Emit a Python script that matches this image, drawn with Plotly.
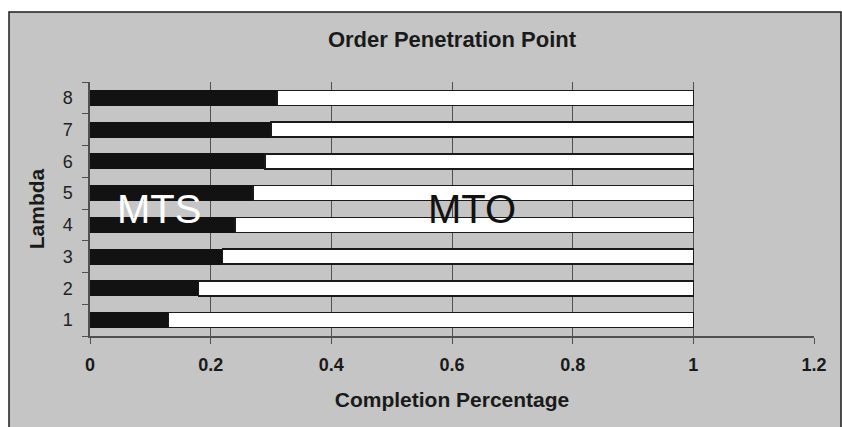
import plotly.graph_objects as go

# Order penetration point per lambda: share of completion done make-to-stock
lambdas = ["1", "2", "3", "4", "5", "6", "7", "8"]
mts_share = [0.13, 0.18, 0.22, 0.24, 0.27, 0.29, 0.30, 0.31]
mto_share = [round(1 - v, 2) for v in mts_share]

x_ticks = [0, 0.2, 0.4, 0.6, 0.8, 1.0, 1.2]
x_tick_text = ["0", "0.2", "0.4", "0.6", "0.8", "1", "1.2"]

FONT = "Liberation Sans, Arial, sans-serif"
BG = "#c4c5c4"
W, H = 842, 427
L, R, T, B = 90, 28, 82, 91
pw, ph = W - L - R, H - T - B


def px_to_paper_x(px):
    return (px - L) / pw


def px_to_paper_y(py):
    return (H - B - py) / ph


fig = go.Figure()
fig.add_trace(go.Bar(
    y=lambdas, x=mts_share, orientation="h", name="MTS",
    marker=dict(color="#121212", line=dict(color="#121212", width=1)),
))
fig.add_trace(go.Bar(
    y=lambdas, x=mto_share, orientation="h", name="MTO",
    marker=dict(color="#ffffff", line=dict(color="#1a1a1a", width=1.5)),
))

# grey chart area with dark frame
fig.add_shape(
    type="rect", xref="paper", yref="paper", layer="below",
    x0=px_to_paper_x(9), x1=px_to_paper_x(841),
    y0=px_to_paper_y(440), y1=px_to_paper_y(12),
    fillcolor=BG, line=dict(color="#1e1e1e", width=1.5),
)

fig.add_annotation(x=0.115, y=3.5, xref="x", yref="y", text="MTS",
                   showarrow=False, font=dict(family=FONT, size=40, color="#ffffff"))
fig.add_annotation(x=0.633, y=3.5, xref="x", yref="y", text="MTO",
                   showarrow=False, font=dict(family=FONT, size=40, color="#111111"))

fig.update_layout(
    width=W, height=H,
    margin=dict(l=L, r=R, t=T, b=B),
    paper_bgcolor="#ffffff",
    plot_bgcolor="rgba(0,0,0,0)",
    barmode="stack",
    bargap=0.53,
    showlegend=False,
    font=dict(family=FONT),
    title=dict(text="<b>Order Penetration Point</b>", x=0.5, xref="paper",
               y=1 - 39 / H, yref="container", yanchor="middle",
               font=dict(family=FONT, size=22, color="#1a1a1a")),
    xaxis=dict(
        range=[0, 1.2], tickvals=x_ticks,
        ticktext=[f"<b>{t}</b>" for t in x_tick_text],
        tickfont=dict(family=FONT, size=18, color="#1a1a1a"),
        showgrid=True, gridcolor="#505050", gridwidth=1,
        showline=True, linecolor="#505050", linewidth=1.5,
        ticks="outside", ticklen=6, tickcolor="#505050",
        ticklabelstandoff=6,
        zeroline=False,
        title=dict(text="<b>Completion Percentage</b>", standoff=18,
                   font=dict(family=FONT, size=21, color="#1a1a1a")),
    ),
    yaxis=dict(
        type="category", categoryorder="array", categoryarray=lambdas,
        tickson="boundaries",
        tickfont=dict(family=FONT, size=18, color="#222222"),
        showgrid=False,
        showline=True, linecolor="#505050", linewidth=1.5,
        ticks="outside", ticklen=6, tickcolor="#505050",
        ticklabelstandoff=12,
        title=dict(text="<b>Lambda</b>", standoff=12,
                   font=dict(family=FONT, size=21, color="#1a1a1a")),
    ),
)

fig.write_html("out.html")
